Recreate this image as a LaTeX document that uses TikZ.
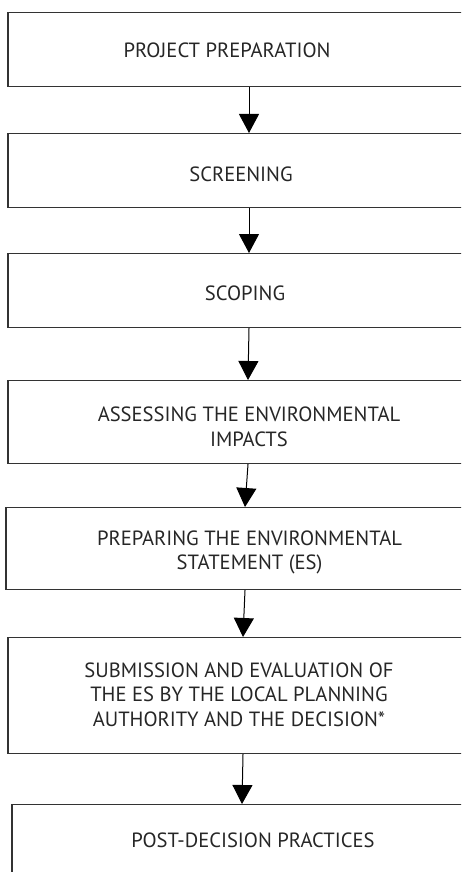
\documentclass[tikz,border=0pt]{standalone}
\usepackage{fontspec}
\setmainfont{PT Sans}
\usetikzlibrary{arrows.meta}

\tikzset{
  stage/.style={draw=black!80, line width=1.2pt, anchor=north, inner sep=0pt},
  stagetext/.style={font=\fontsize{20.6}{24.5}\selectfont, align=center, text=black!85},
  flow/.style={-{Triangle[width=20pt,length=19pt]}, line width=1pt}
}

\begin{document}
\begin{tikzpicture}[x=1pt,y=-1pt]
    \useasboundingbox (0,0) rectangle (461,872);
    \clip (0,0) rectangle (461,872);
    % boxes (right sides run off the page)
    \node[stage, minimum width=482pt, minimum height=74pt] (prep) at (249,12) {};
    \node[stage, minimum width=482pt, minimum height=74pt] (screen) at (249,133) {};
    \node[stage, minimum width=482pt, minimum height=74pt] (scope) at (249,253) {};
    \node[stage, minimum width=480pt, minimum height=83pt] (assess) at (248,380) {};
    \node[stage, minimum width=478pt, minimum height=82pt] (statement) at (245,507) {};
    \node[stage, minimum width=470pt, minimum height=116pt] (decision) at (243,637) {};
    \node[stage, minimum width=460pt, minimum height=100pt] (post) at (242,804) {};
    % texts
    \node[stagetext] (prepText) at ([xshift=-22pt,yshift=-1pt]prep.center) {PROJECT PREPARATION};
    \node[stagetext] (screenText) at ([xshift=-8pt,yshift=-4pt]screen.center) {SCREENING};
    \node[stagetext] (scopeText) at ([xshift=-4pt,yshift=-2.5pt]scope.center) {SCOPING};
    \node[stagetext] (assessText) at ([xshift=1pt,yshift=-4.5pt]assess.center) {ASSESSING THE ENVIRONMENTAL\\IMPACTS};
    \node[stagetext] (statementText) at ([xshift=4.5pt,yshift=-4pt]statement.center) {PREPARING THE ENVIRONMENTAL\\STATEMENT (ES)};
    \node[stagetext] (decisionText) at ([xshift=-4pt,yshift=1pt]decision.center) {SUBMISSION AND EVALUATION OF\\THE ES BY THE LOCAL PLANNING\\AUTHORITY AND THE DECISION*};
    \node[stagetext] (postText) at (253,840) {POST-DECISION PRACTICES};
    % arrows
    \draw[flow] (prep.south) -- (screen.north);
    \draw[flow] (screen.south) -- (scope.north);
    \draw[flow] (scope.south) -- (assess.north);
    \draw[flow] (assess.south) -- (statement.north);
    \draw[flow] (statement.south) -- (decision.north);
    \draw[flow] (decision.south) -- (post.north);
\end{tikzpicture}
\end{document}
